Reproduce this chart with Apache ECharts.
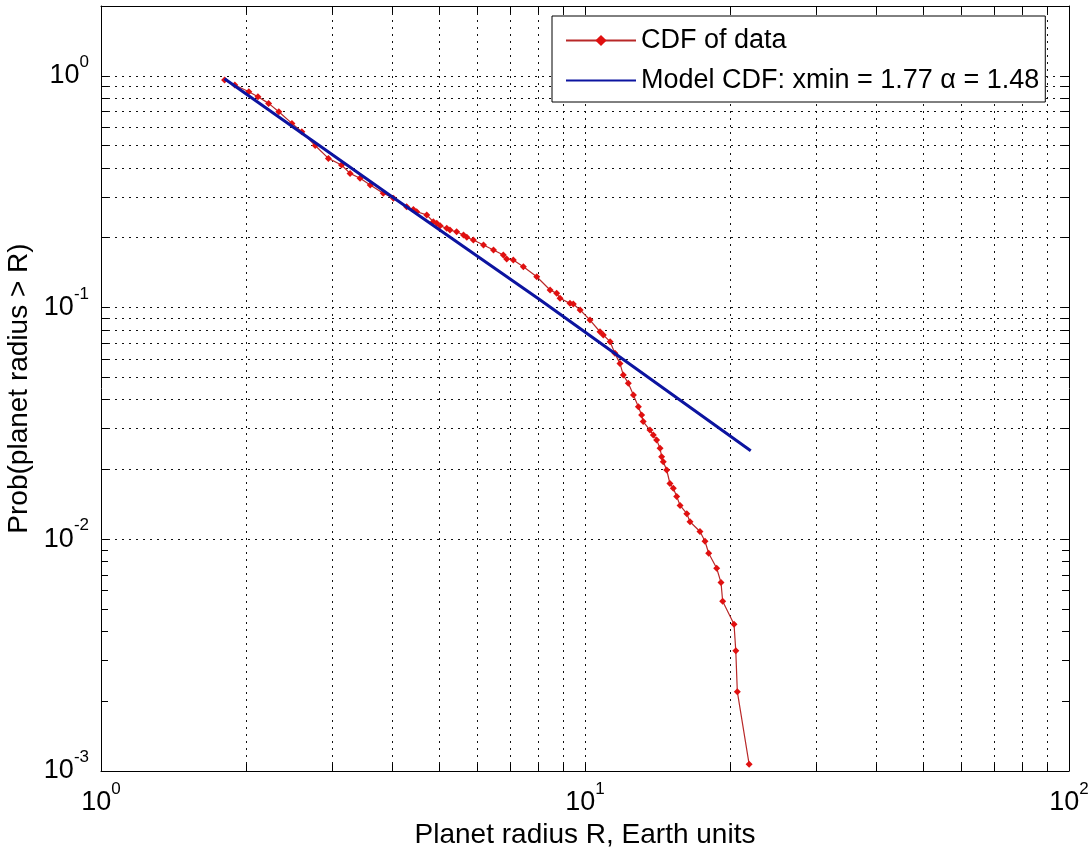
<!DOCTYPE html>
<html>
<head>
<meta charset="utf-8">
<title>Planet radius CDF</title>
<script src="https://cdn.jsdelivr.net/npm/echarts@6/dist/echarts.min.js"></script>
<style>
    html, body { margin: 0; padding: 0; background: #fff; }
    #main { width: 1091px; height: 850px; }
</style>
</head>
<body>
<div id="main"></div>
<script>
// 数据：经验CDF（从图上读的点）
var cdfX = [1.80, 1.89, 2.02, 2.11, 2.22, 2.33, 2.48, 2.60, 2.77, 2.95, 3.14, 3.27, 3.43, 3.60, 3.83,
    4.02, 4.28, 4.42, 4.49, 4.71, 4.86, 4.94, 5.02, 5.18, 5.26, 5.43, 5.61, 5.70, 5.88, 6.17, 6.47,
    6.78, 6.89, 7.11, 7.46, 7.95, 8.47, 8.74, 8.88, 9.31, 9.46, 9.77, 10.24, 10.74, 10.91, 11.27,
    11.53, 11.81, 12.00, 12.29, 12.59, 12.89, 13.09, 13.19, 13.62, 13.84, 14.06, 14.29, 14.40,
    14.51, 14.75, 14.98, 15.22, 15.47, 15.72, 16.23, 16.48, 17.28, 17.70, 18.01, 18.71, 19.10,
    19.25, 20.32, 20.49, 20.64, 21.83];
var cdfY = [0.958, 0.912, 0.853, 0.812, 0.760, 0.699, 0.623, 0.573, 0.500, 0.440, 0.412, 0.379, 0.361, 0.338, 0.311,
    0.296, 0.272, 0.265, 0.259, 0.251, 0.2345, 0.2308, 0.2254, 0.2196, 0.2159, 0.2123, 0.2055, 0.2008, 0.1955, 0.1861, 0.1770,
    0.1684, 0.1619, 0.1603, 0.1500, 0.1358, 0.1190, 0.1151, 0.1096, 0.1042, 0.1035, 0.0976, 0.0883, 0.0786, 0.0761, 0.0712,
    0.0634, 0.0574, 0.0511, 0.0471, 0.0419, 0.0373, 0.0344, 0.0322, 0.0296, 0.0282, 0.0268, 0.0247, 0.0227,
    0.0216, 0.0199, 0.0174, 0.0166, 0.0153, 0.0140, 0.0129, 0.0119, 0.0108, 0.0098, 0.0087, 0.0075, 0.0065,
    0.0054, 0.0043, 0.0033, 0.0022, 0.00107];

// 模型CDF（直线）
var modelX = [1.80, 4.0, 8.07, 22.0];
var modelY = [0.97, 0.30, 0.108, 0.0241];

// 次网格线位置
var xMinor = [2, 3, 4, 5, 6, 7, 8, 9, 20, 30, 40, 50, 60, 70, 80, 90];
var yMinor = [0.002, 0.003, 0.004, 0.005, 0.006, 0.007, 0.008, 0.009,
    0.02, 0.03, 0.04, 0.05, 0.06, 0.07, 0.08, 0.09,
    0.2, 0.3, 0.4, 0.5, 0.6, 0.7, 0.8, 0.9];

var xMin = 1, xMax = 100, yMin = 0.001, yMax = 2;

var FONT = '"Liberation Sans", Arial, Helvetica, sans-serif';
var modelName = 'Model CDF: xmin = 1.77 \u03b1 = 1.48';

function zip(xs, ys) {
    var arr = [];
    for (var i = 0; i < xs.length; i++) {
        arr.push([xs[i], ys[i]]);
    }
    return arr;
}

// 10^n 标签
function powLabel(v) {
    var e = Math.log(v) / Math.LN10;
    if (Math.abs(e - Math.round(e)) > 1e-6) return '';
    return '{b|10}{s|' + Math.round(e) + '}';
}

var labelRich = {
    b: { fontSize: 27, fontFamily: FONT, color: '#000', lineHeight: 44 },
    s: { fontSize: 17, fontFamily: FONT, color: '#000', lineHeight: 20, verticalAlign: 'top' }
};

// 网格（点线）
var gridLines = [];
xMinor.forEach(function (v) { gridLines.push({ xAxis: v }); });
yMinor.forEach(function (v) { gridLines.push({ yAxis: v }); });

// 次刻度（内侧短线）
var xTickF = Math.pow(10, 7 / 484);
var yTickF = Math.pow(10, 7 / 232);
var minorTicks = [];
xMinor.forEach(function (v) {
    minorTicks.push([{ coord: [v, yMin] }, { coord: [v, yMin * yTickF] }]);
    minorTicks.push([{ coord: [v, yMax] }, { coord: [v, yMax / yTickF] }]);
});
yMinor.forEach(function (v) {
    minorTicks.push([{ coord: [xMin, v] }, { coord: [xMin * xTickF, v] }]);
    minorTicks.push([{ coord: [xMax, v] }, { coord: [xMax / xTickF, v] }]);
});

var dotted = { color: '#111', width: 1, type: [2, 5] };

var axisCommon = {
    type: 'log',
    logBase: 10,
    axisLine: { show: true, lineStyle: { color: '#000', width: 1 } },
    axisTick: { show: true, inside: true, length: 7, lineStyle: { color: '#000' } },
    splitLine: { show: true, lineStyle: dotted }
};

var myChart = echarts.init(document.getElementById('main'));

var option = {
    animation: false,
    backgroundColor: '#fff',
    grid: { left: 101, right: 22, top: 6, bottom: 79, containLabel: false, outerBoundsMode: 'none' },
    legend: {
        orient: 'vertical',
        left: 552,
        top: 16,
        data: [
            { name: 'CDF of data' },
            { name: modelName, itemStyle: { opacity: 0 } }
        ],
        backgroundColor: '#fff',
        borderColor: '#000',
        borderWidth: 1,
        borderRadius: 0,
        padding: [11, 6, 8, 13],
        itemGap: 13,
        itemWidth: 70,
        itemHeight: 14,
        textStyle: { fontSize: 27, fontFamily: FONT, color: '#000' }
    },
    xAxis: [
        Object.assign({}, axisCommon, {
            min: xMin, max: xMax,
            name: 'Planet radius R, Earth units',
            nameLocation: 'middle',
            nameGap: 45,
            nameTextStyle: { fontSize: 28, fontFamily: FONT, color: '#000' },
            axisLabel: { margin: 10, formatter: powLabel, rich: labelRich }
        }),
        Object.assign({}, axisCommon, {
            min: xMin, max: xMax, position: 'top',
            axisLabel: { show: false }, splitLine: { show: false }
        })
    ],
    yAxis: [
        Object.assign({}, axisCommon, {
            min: yMin, max: yMax,
            name: 'Prob(planet radius > R)',
            nameLocation: 'middle',
            nameGap: 65,
            nameTextStyle: { fontSize: 28, fontFamily: FONT, color: '#000' },
            axisLabel: { margin: 12, formatter: powLabel, rich: labelRich }
        }),
        Object.assign({}, axisCommon, {
            min: yMin, max: yMax, position: 'right',
            axisLabel: { show: false }, splitLine: { show: false }
        })
    ],
    series: [
        {
            name: 'grid',
            type: 'line',
            data: [],
            z: 1,
            silent: true,
            markLine: {
                z: 1,
                silent: true,
                symbol: 'none',
                label: { show: false },
                lineStyle: dotted,
                data: gridLines
            }
        },
        {
            name: 'ticks',
            type: 'line',
            data: [],
            z: 1,
            silent: true,
            markLine: {
                z: 1,
                silent: true,
                symbol: 'none',
                label: { show: false },
                lineStyle: { color: '#000', width: 1, type: 'solid' },
                data: minorTicks
            }
        },
        {
            name: 'CDF of data',
            type: 'line',
            data: zip(cdfX, cdfY),
            z: 3,
            symbol: 'diamond',
            symbolSize: 7,
            showAllSymbol: true,
            itemStyle: { color: '#e01010' },
            lineStyle: { color: '#b82828', width: 1.2 }
        },
        {
            name: modelName,
            type: 'line',
            data: zip(modelX, modelY),
            z: 4,
            symbol: 'none',
            itemStyle: { color: '#0c14a0' },
            lineStyle: { color: '#0c14a0', width: 3 }
        }
    ]
};

myChart.setOption(option);
</script>
</body>
</html>
